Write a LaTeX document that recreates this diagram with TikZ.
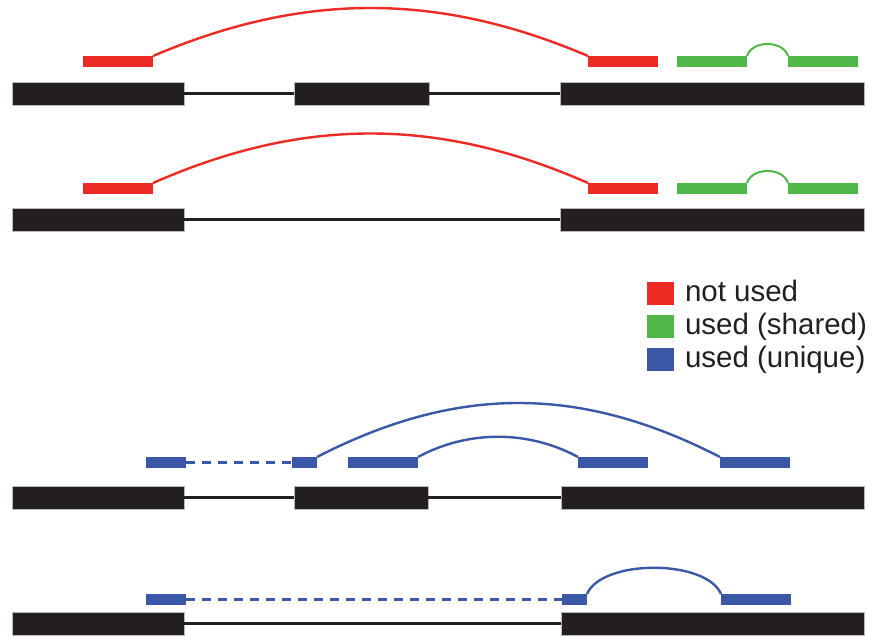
\documentclass[tikz,border=0pt]{standalone}
\usepackage{fontspec}
\setmainfont{Liberation Sans}
\definecolor{exonc}{HTML}{231F20}
\definecolor{redc}{HTML}{EE2A24}
\definecolor{greenc}{HTML}{50B848}
\definecolor{bluec}{HTML}{3A58A6}
\begin{document}
\begin{tikzpicture}[x=1pt,y=-1pt,
  exon/.style={fill=exonc, draw=gray!55, line width=0.5pt, inner sep=0, outer sep=0, anchor=north west, minimum height=23.5pt},
  readbox/.style={inner sep=0, outer sep=0, anchor=north west, minimum height=11pt},
  redread/.style={readbox, fill=redc},
  greenread/.style={readbox, fill=greenc},
  blueread/.style={readbox, fill=bluec},
  intron/.style={draw=exonc, line width=2.7pt},
  redarc/.style={draw=redc, line width=2.4pt},
  greenarc/.style={draw=greenc, line width=2pt},
  bluearc/.style={draw=bluec, line width=2.4pt},
  bluedash/.style={draw=bluec, line width=3.4pt, dash pattern=on 9pt off 7pt},
  legbox/.style={inner sep=0, outer sep=0, anchor=north west, minimum width=27pt, minimum height=23pt},
  legtext/.style={inner sep=0, outer sep=0, anchor=base west, font=\fontsize{29.5}{32}\selectfont, text=exonc}
]
\useasboundingbox (0,0) rectangle (876,636);

% ---------- row 1 ----------
\node[exon, minimum width=172pt] (e11) at (12,82) {};
\node[exon, minimum width=135pt] (e12) at (294,82) {};
\node[exon, minimum width=304pt] (e13) at (560,82) {};
\draw[intron] (e11.east) -- (e12.west);
\draw[intron] (e12.east) -- (e13.west);
\node[redread, minimum width=70pt] (r11) at (83,56) {};
\node[redread, minimum width=70pt] (r12) at (588,56) {};
\node[greenread, minimum width=70pt] (g11) at (677,56) {};
\node[greenread, minimum width=70pt] (g12) at (788,56) {};
\draw[redarc] (r11.north east) .. controls +(150,-64) and +(-150,-64) .. (r12.north west);
\draw[greenarc] (g11.north east) .. controls +(5,-16) and +(-5,-16) .. (g12.north west);

% ---------- row 2 ----------
\node[exon, minimum width=172pt] (e21) at (12,208) {};
\node[exon, minimum width=304pt] (e23) at (560,208) {};
\draw[intron] (e21.east) -- (e23.west);
\node[redread, minimum width=70pt] (r21) at (83,183) {};
\node[redread, minimum width=70pt] (r22) at (588,183) {};
\node[greenread, minimum width=70pt] (g21) at (677,183) {};
\node[greenread, minimum width=70pt] (g22) at (788,183) {};
\draw[redarc] (r21.north east) .. controls +(150,-66) and +(-150,-66) .. (r22.north west);
\draw[greenarc] (g21.north east) .. controls +(5,-16) and +(-5,-16) .. (g22.north west);

% ---------- legend ----------
\node[legbox, fill=redc] (lr) at (647,282) {};
\node[legbox, fill=greenc] (lg) at (647,315) {};
\node[legbox, fill=bluec] (lb) at (647,348) {};
\node[legtext] (lrt) at (685,302) {not used};
\node[legtext] (lgt) at (685,335) {used (shared)};
\node[legtext] (lbt) at (685,368) {used (unique)};

% ---------- row 3 ----------
\node[exon, minimum width=172pt] (e31) at (12,486) {};
\node[exon, minimum width=134pt] (e32) at (294,486) {};
\node[exon, minimum width=303pt] (e33) at (561,486) {};
\draw[intron] (e31.east) -- (e32.west);
\draw[intron] (e32.east) -- (e33.west);
\node[blueread, minimum width=40pt] (b31) at (146,457) {};
\node[blueread, minimum width=25pt] (b32) at (292,457) {};
\node[blueread, minimum width=70pt] (b33) at (348,457) {};
\node[blueread, minimum width=70pt] (b34) at (578,457) {};
\node[blueread, minimum width=70pt] (b35) at (720,457) {};
\draw[bluedash] (b31.east) -- (b32.west);
\draw[bluearc] (b32.north east) .. controls +(140,-72) and +(-140,-72) .. (b35.north west);
\draw[bluearc] (b33.north east) .. controls +(50,-27) and +(-50,-27) .. (b34.north west);

% ---------- row 4 ----------
\node[exon, minimum width=172pt] (e41) at (12,612) {};
\node[exon, minimum width=303pt] (e43) at (561,612) {};
\draw[intron] (e41.east) -- (e43.west);
\node[blueread, minimum width=40pt] (b41) at (146,594) {};
\node[blueread, minimum width=25pt] (b42) at (562,594) {};
\node[blueread, minimum width=70pt] (b43) at (721,594) {};
\draw[bluedash] (b41.east) -- (b42.west);
\draw[bluearc] (b42.north east) .. controls +(15,-35) and +(-15,-35) .. (b43.north west);
\end{tikzpicture}
\end{document}
